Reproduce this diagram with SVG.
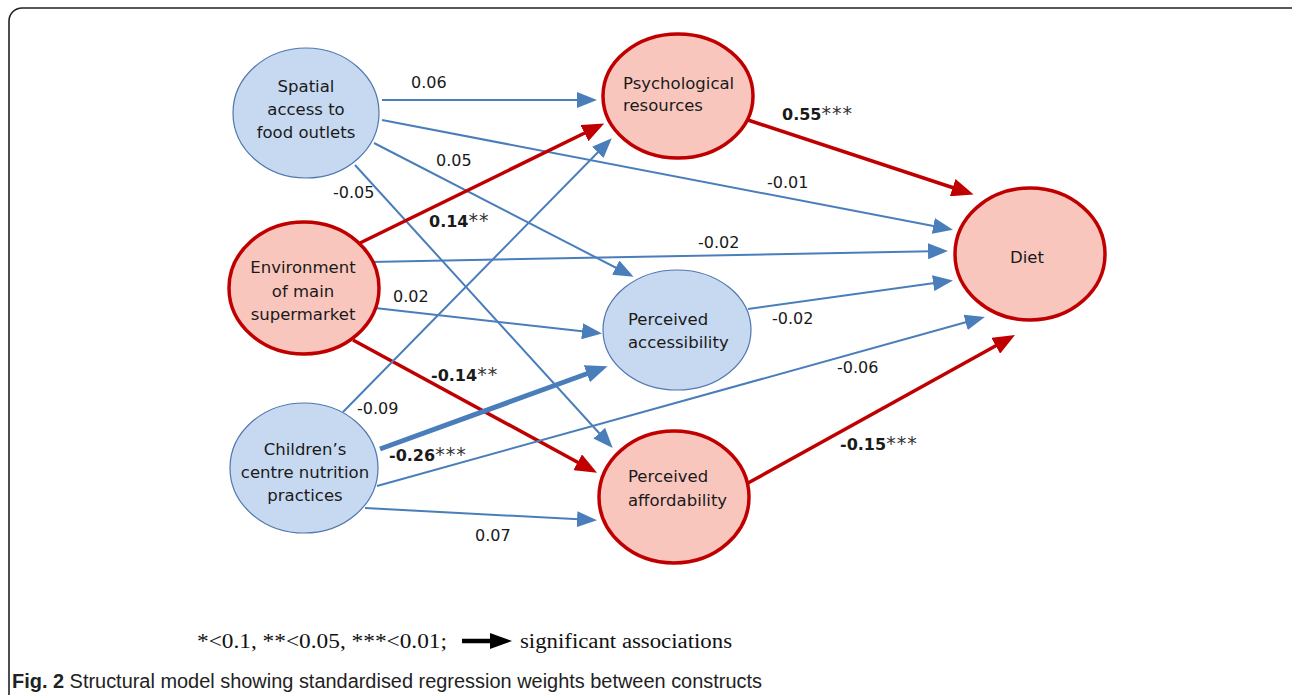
<svg xmlns="http://www.w3.org/2000/svg" width="1292" height="695" viewBox="0 0 1292 695">
<style>
.nb{fill:#c6d9f1;stroke:#4f77b0;stroke-width:1.2}
.nr{fill:#f9c6be;stroke:#c00000;stroke-width:3.5}
.t{font-family:"DejaVu Sans",Verdana,sans-serif;font-size:16.5px;fill:#1a1a1a}
.c{text-anchor:middle}
.lb{font-family:"DejaVu Sans",Verdana,sans-serif;font-size:16px;fill:#1a1a1a}
.bd{font-weight:bold}
.st{font-weight:normal;font-size:19px;letter-spacing:1px;fill:#333}
.eb{stroke:#4a7ebb;stroke-width:2;fill:none}
.ebt{stroke:#4a7ebb;stroke-width:5;fill:none}
.er{stroke:#c00000;stroke-width:3.5;fill:none}
.leg{font-family:"Liberation Serif","Times New Roman",serif;font-size:20px;fill:#111}
.cap{font-family:"Liberation Sans",Arial,sans-serif;font-size:20px;fill:#222}
</style>
<defs>
<marker id="ab" markerUnits="userSpaceOnUse" markerWidth="20" markerHeight="16" viewBox="0 0 20 16" refX="16" refY="8" orient="auto"><path d="M0,0 L20,8 L0,16 z" fill="#4a7ebb"/></marker>
<marker id="abt" markerUnits="userSpaceOnUse" markerWidth="22" markerHeight="18" viewBox="0 0 22 18" refX="14" refY="9" orient="auto"><path d="M0,0 L22,9 L0,18 z" fill="#4a7ebb"/></marker>
<marker id="ar" markerUnits="userSpaceOnUse" markerWidth="22" markerHeight="18" viewBox="0 0 22 18" refX="14" refY="9" orient="auto"><path d="M0,0 L22,9 L0,18 z" fill="#c00000"/></marker>
<marker id="ak" markerUnits="userSpaceOnUse" markerWidth="22" markerHeight="16" viewBox="0 0 22 16" refX="12" refY="8" orient="auto"><path d="M0,0 L22,8 L0,16 z" fill="#000"/></marker>
</defs>
<rect x="0" y="0" width="1292" height="695" fill="#fff"/>
<rect x="9" y="8" width="1296" height="720" rx="13" fill="none" stroke="#222" stroke-width="1.6"/>

<g id="connectors">
<line class="eb" x1="382" y1="100" x2="593" y2="100" marker-end="url(#ab)"/>
<line class="eb" x1="382" y1="120" x2="949" y2="229" marker-end="url(#ab)"/>
<line class="eb" x1="374" y1="143" x2="630" y2="275" marker-end="url(#ab)"/>
<line class="eb" x1="355" y1="165" x2="610" y2="445" marker-end="url(#ab)"/>
<line class="er" x1="360" y1="243" x2="597" y2="127" marker-end="url(#ar)"/>
<line class="eb" x1="370" y1="262" x2="944" y2="251" marker-end="url(#ab)"/>
<line class="eb" x1="375" y1="308" x2="598" y2="333" marker-end="url(#ab)"/>
<line class="er" x1="353" y1="340" x2="590" y2="469" marker-end="url(#ar)"/>
<line class="eb" x1="343" y1="412" x2="609" y2="141" marker-end="url(#ab)"/>
<line class="ebt" x1="380" y1="449" x2="600" y2="369" marker-end="url(#abt)"/>
<line class="eb" x1="377" y1="486" x2="981" y2="318" marker-end="url(#ab)"/>
<line class="eb" x1="365" y1="508" x2="593" y2="520" marker-end="url(#ab)"/>
<line class="er" x1="748" y1="120" x2="966" y2="192" marker-end="url(#ar)"/>
<line class="eb" x1="748" y1="309" x2="949" y2="281" marker-end="url(#ab)"/>
<line class="er" x1="748" y1="483" x2="1008" y2="339" marker-end="url(#ar)"/>

<text class="lb" x="411" y="88">0.06</text>
<text class="lb" x="767" y="188">-0.01</text>
<text class="lb" x="436" y="166">0.05</text>
<text class="lb" x="333" y="198">-0.05</text>
<text class="lb bd" x="429" y="227">0.14<tspan class="st">**</tspan></text>
<text class="lb" x="698" y="248">-0.02</text>
<text class="lb" x="393" y="302">0.02</text>
<text class="lb bd" x="431" y="381">-0.14<tspan class="st">**</tspan></text>
<text class="lb" x="357" y="414">-0.09</text>
<text class="lb bd" x="389" y="461">-0.26<tspan class="st">***</tspan></text>
<text class="lb" x="475" y="541">0.07</text>
<text class="lb bd" x="782" y="120">0.55<tspan class="st">***</tspan></text>
<text class="lb" x="772" y="324">-0.02</text>
<text class="lb" x="837" y="373">-0.06</text>
<text class="lb bd" x="840" y="450">-0.15<tspan class="st">***</tspan></text>
</g>

<g id="spatial">
<ellipse class="nb" cx="306" cy="113" rx="73" ry="65"/>
<text class="t c" x="306" y="92">Spatial</text>
<text class="t c" x="306" y="115">access to</text>
<text class="t c" x="306" y="138">food outlets</text>
</g>
<g id="psychological">
<ellipse class="nr" cx="678" cy="96" rx="75" ry="62"/>
<text class="t" x="623" y="89">Psychological</text>
<text class="t" x="623" y="111">resources</text>
</g>
<g id="environment">
<ellipse class="nr" cx="304" cy="288" rx="75" ry="66"/>
<text class="t c" x="303" y="273">Environment</text>
<text class="t c" x="303" y="297">of main</text>
<text class="t c" x="303" y="320">supermarket</text>
</g>
<g id="children">
<ellipse class="nb" cx="304" cy="468" rx="74" ry="65"/>
<text class="t c" x="305" y="455">Children’s</text>
<text class="t c" x="305" y="478">centre nutrition</text>
<text class="t c" x="305" y="501">practices</text>
</g>
<g id="accessibility">
<ellipse class="nb" cx="677" cy="330" rx="74" ry="60"/>
<text class="t" x="628" y="325">Perceived</text>
<text class="t" x="628" y="348">accessibility</text>
</g>
<g id="affordability">
<ellipse class="nr" cx="674" cy="497" rx="75" ry="66"/>
<text class="t" x="628" y="482">Perceived</text>
<text class="t" x="628" y="506">affordability</text>
</g>
<g id="diet">
<ellipse class="nr" cx="1030" cy="254" rx="75" ry="66"/>
<text class="t c" x="1027" y="263">Diet</text>
</g>

<g id="legend">
<text class="leg" x="197" y="648" textLength="250" lengthAdjust="spacingAndGlyphs">*&lt;0.1, **&lt;0.05, ***&lt;0.01;</text>
<line x1="462" y1="641" x2="502" y2="641" stroke="#000" stroke-width="4.5" marker-end="url(#ak)"/>
<text class="leg" x="520" y="648" textLength="212" lengthAdjust="spacingAndGlyphs">significant associations</text>
</g>
<g id="caption">
<text class="cap" x="12" y="688" textLength="750" lengthAdjust="spacingAndGlyphs"><tspan font-weight="bold">Fig. 2</tspan> Structural model showing standardised regression weights between constructs</text>
</g>
</svg>
